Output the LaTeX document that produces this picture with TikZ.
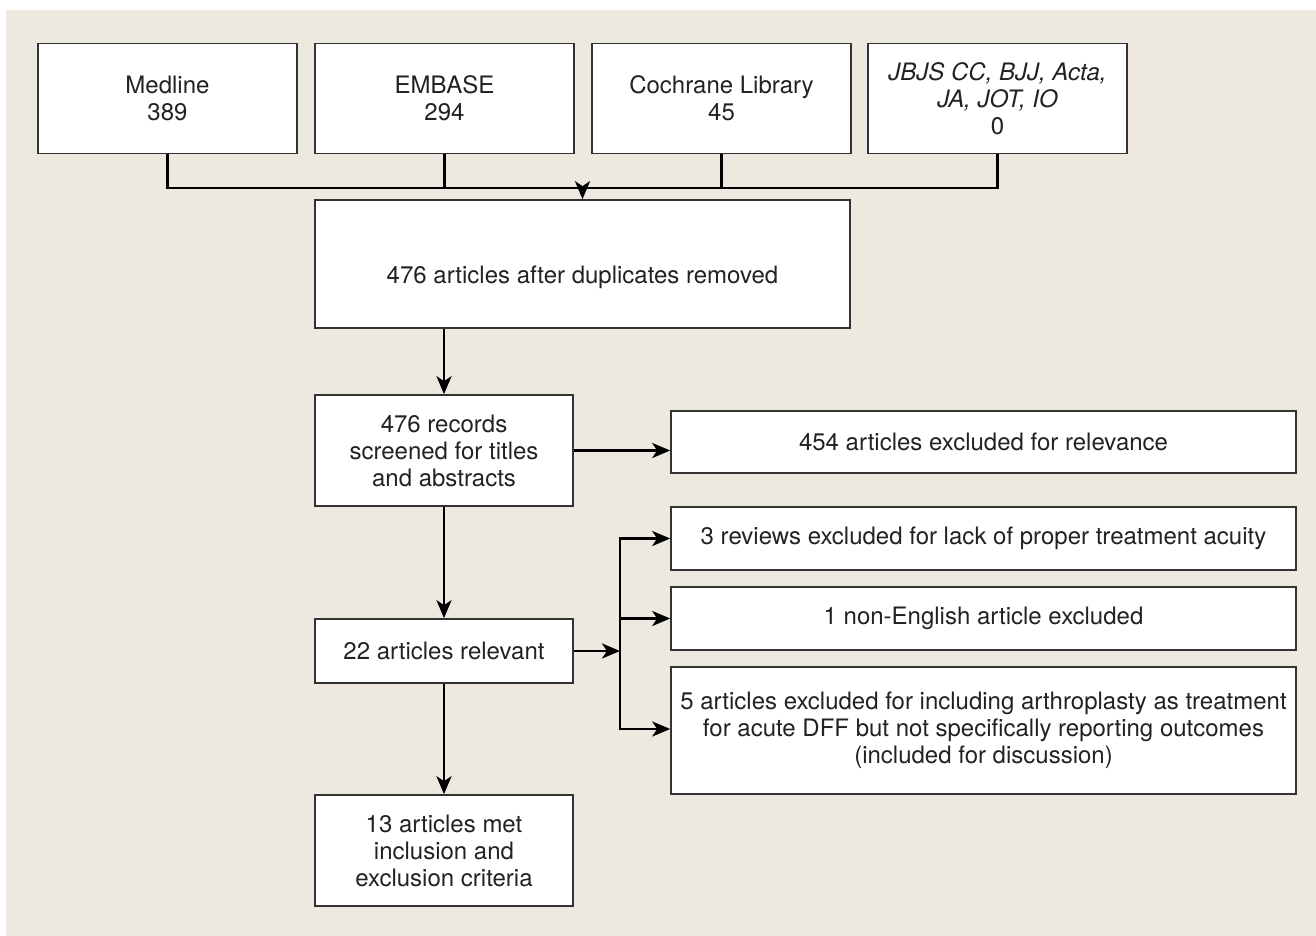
\documentclass[tikz,border=0pt]{standalone}
\usepackage{fontspec}
\setmainfont{TeX Gyre Heros}
\usetikzlibrary{arrows.meta,calc}
\definecolor{bgc}{HTML}{EDE9E0}
\definecolor{txt}{HTML}{222222}
\begin{document}
\begin{tikzpicture}[x=1pt,y=-1pt,
  box/.style={draw=black!80,line width=1.6pt,fill=white,inner sep=0pt,align=center,
    text=txt,font=\fontsize{24}{27}\selectfont,minimum width=259pt},
  conn/.style={line width=2.8pt,black},
  arr/.style={conn,-{Stealth[length=18pt,width=15pt,inset=5pt]}}]
\fill[white] (0,0) rectangle (1316,936);
\fill[bgc] (6,10) rectangle (1316,936);
\useasboundingbox (0,0) rectangle (1316,936);
% top sources
\node[box,minimum height=110pt] (med) at (167.5,98.5) {Medline\\389};
\node[box,minimum height=110pt] (emb) at (444.5,98.5) {EMBASE\\294};
\node[box,minimum height=110pt] (coc) at (721.5,98.5) {Cochrane Library\\45};
\node[box,minimum height=110pt] (jbj) at (997.5,98.5) {\itshape JBJS CC, BJJ, Acta,\\\itshape JA, JOT, IO\\0};
% main column
\node[box,minimum width=535pt,minimum height=128pt,text height=38pt,text depth=0pt] (a476) at (582.5,264) {476 articles after duplicates removed};
\node[box,minimum width=258pt,minimum height=111pt] (scr) at (444,450.5) {476 records\\screened for titles\\and abstracts};
\node[box,minimum width=258pt,minimum height=64pt] (a22) at (444,651) {22 articles relevant};
\node[box,minimum width=258pt,minimum height=111pt] (a13) at (444,850.5) {13 articles met\\inclusion and\\exclusion criteria};
% exclusion boxes
\node[box,minimum width=625pt,minimum height=62pt] (e454) at (983.5,442) {454 articles excluded for relevance};
\node[box,minimum width=625pt,minimum height=63pt] (rev) at (983.5,538.5) {3 reviews excluded for lack of proper treatment acuity};
\node[box,minimum width=625pt,minimum height=63pt] (neng) at (983.5,618.5) {1 non-English article excluded};
\node[box,minimum width=625pt,minimum height=127pt] (five) at (983.5,730.5) {5 articles excluded for including arthroplasty as treatment\\for acute DFF but not specifically reporting outcomes\\(included for discussion)};
% bus
\coordinate (bus) at (582.5,188);
\draw[conn] (med.south) -- (med.south |- bus) -- (jbj.south |- bus) -- (jbj.south);
\draw[conn] (emb.south) -- (emb.south |- bus);
\draw[conn] (coc.south) -- (coc.south |- bus);
\draw[arr] (bus) -- (a476.north);
\draw[arr] (scr.north |- a476.south) -- (scr.north);
\draw[arr] (scr.east) -- (scr.east -| e454.west);
\draw[arr] (scr.south) -- (a22.north);
\draw[arr] (a22.south) -- (a13.north);
% branch
\coordinate (split) at (620,651);
\draw[arr] (a22.east) -- (split);
\draw[conn] (split |- rev.west) -- (620,729);
\draw[arr] ([xshift=-1.4pt]split |- rev.west) -- (rev.west);
\draw[arr] (split |- neng.west) -- (neng.west);
\draw[arr] ([xshift=-1.4pt]620,729) -- (620,729 -| five.west);
\end{tikzpicture}
\end{document}
